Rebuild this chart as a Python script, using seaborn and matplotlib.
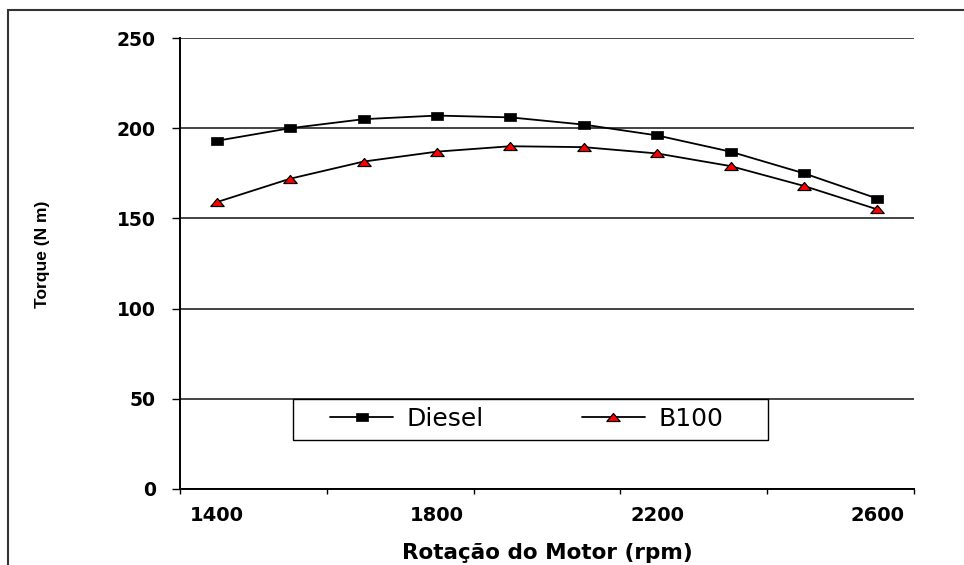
import numpy as np
import pandas as pd
import matplotlib
matplotlib.use("Agg")
import matplotlib.pyplot as plt
from matplotlib.patches import Rectangle
from matplotlib.path import Path
from matplotlib.ticker import FixedLocator
import seaborn as sns

# Engine speed categories (rpm) and torque curves (N m)
rpm = [1400, 1533, 1667, 1800, 1933, 2067, 2200, 2333, 2467, 2600]
diesel = [193, 200, 205, 207, 206, 202, 196, 187, 175, 161]
b100 = [159, 172, 181.5, 187, 190, 189.5, 186, 179, 168, 155]
rpm_labels = ["1400", "1800", "2200", "2600"]
y_ticks = [0, 50, 100, 150, 200, 250]
series_names = ["Diesel", "B100"]

sns.set_style("white")
plt.rcParams["font.family"] = ["DejaVu Sans"]
plt.rcParams["text.color"] = "black"

df = pd.DataFrame({"pos": np.arange(len(rpm)), "rpm": rpm,
                   "Diesel": diesel, "B100": b100})

W, H = 964, 565
fig = plt.figure(figsize=(W / 100, H / 100), dpi=100)
ax = fig.add_axes([180 / W, 1 - 489 / H, 734 / W, 451 / H])

# Wide, flat marker shapes
square = Path([(-1.5, -1), (1.5, -1), (1.5, 1), (-1.5, 1), (-1.5, -1)], closed=True)
triangle = Path([(-1, -0.6), (1, -0.6), (0, 0.6), (-1, -0.6)], closed=True)

sns.lineplot(data=df, x="pos", y="Diesel", ax=ax, color="black", lw=1.3,
             marker=square, markersize=9.0, markerfacecolor="black",
             markeredgecolor="black", markeredgewidth=0.5, errorbar=None,
             legend=False, zorder=4)
sns.lineplot(data=df, x="pos", y="B100", ax=ax, color="black", lw=1.3,
             marker=triangle, markersize=9.6, markerfacecolor="#ff0000",
             markeredgecolor="black", markeredgewidth=0.9, errorbar=None,
             legend=False, zorder=4)

ax.set_xlim(-0.5, len(rpm) - 0.5)
ax.set_ylim(0, 250)

# Category axis: labels every third category, tick marks every second boundary
label_pos = [rpm.index(int(t)) for t in rpm_labels]
ax.set_xticks(label_pos, labels=rpm_labels)
ax.xaxis.set_minor_locator(FixedLocator(np.arange(-0.5, len(rpm), 2)))
ax.set_yticks(y_ticks)

ax.tick_params(axis="x", which="major", bottom=True, length=0, pad=12,
               labelsize=14, labelcolor="black")
ax.tick_params(axis="x", which="minor", bottom=True, length=3.6, width=1,
               direction="out", color="black")
ax.tick_params(axis="y", which="major", left=True, length=5.8, width=1,
               direction="out", color="black", pad=11.5, labelsize=13.5,
               labelcolor="black")
for lbl in ax.get_xticklabels() + ax.get_yticklabels():
    lbl.set_fontweight("bold")

ax.yaxis.grid(True, color="#111111", lw=1.1)
ax.xaxis.grid(False)
ax.set_axisbelow(True)
for side in ("top", "right"):
    ax.spines[side].set_visible(False)
for side in ("left", "bottom"):
    ax.spines[side].set_color("black")
    ax.spines[side].set_linewidth(1.4)

ax.set_xlabel("Rotação do Motor (rpm)", fontsize=15.5, fontweight="bold",
              color="black")
ax.xaxis.set_label_coords(0.5, -0.142)
ax.xaxis.label.set_va("center")

ax.set_ylabel("Torque (N m)", fontsize=12.5, fontweight="bold", color="black",
              family=["Liberation Sans", "DejaVu Sans"])
ax.yaxis.set_label_coords(-0.188, 0.521)
ax.yaxis.label.set_va("center")
ax.yaxis.label.set_ha("center")
ax.yaxis.label.set_rotation_mode("anchor")

# Legend box with the two series side by side
ax.add_patch(Rectangle(((293 - 180) / 734, (489 - 440) / 451),
                       (768 - 293) / 734, (440 - 399) / 451,
                       transform=ax.transAxes, facecolor="white",
                       edgecolor="black", lw=1.0, zorder=5, clip_on=False))
handles = ax.get_lines()[:2]
leg = ax.legend(handles, series_names, ncol=2, frameon=False, fontsize=18,
                handlelength=2.52, handletextpad=0.55, columnspacing=3.9,
                borderpad=0, borderaxespad=0, loc="center left",
                labelcolor="black",
                bbox_to_anchor=((330 - 180) / 734, (489 - 419) / 451))
leg.set_zorder(6)

# Outer chart border (left and top edges visible)
fig.patches.append(Rectangle((8 / W, -0.1), 1.2, 1 - 10 / H + 0.1,
                             transform=fig.transFigure, fill=False,
                             edgecolor="#333333", lw=1.5))

fig.savefig("out.png", dpi=100)
